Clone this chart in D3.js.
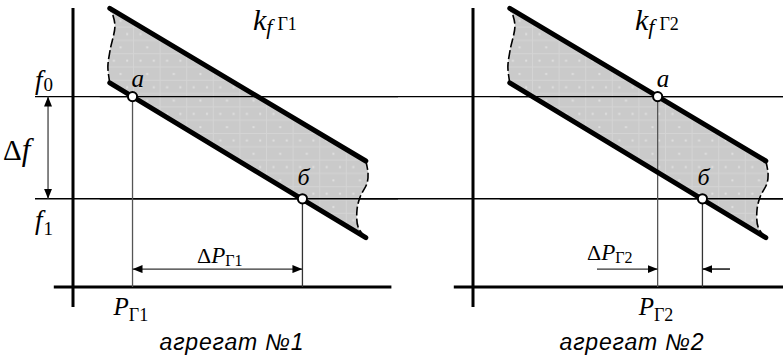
<!DOCTYPE html>
<html><head><meta charset="utf-8">
<script src="https://cdn.jsdelivr.net/npm/d3@7"></script>
<style>body{margin:0;background:#fff} svg{display:block}</style>
</head><body>
<script>
// ---- data (P in arbitrary units 0..100, f in arbitrary units 0..100) ----
const panelNames = ["агрегат №1", "агрегат №2"];
const panelSub = ["1", "2"];
const fLevels = [68, 31.5];              // f0, f1
const fLabels = ["0", "1"];
const bandTopP = [11.5, 91.5], bandTopF = [99.5, 45];
const bandBotP = [11.5, 91.5], bandBotF = [72.9, 17.6];
const leftEdgeP = [11.5, 12.5, 13.1, 11.6, 10.9, 11.5];
const leftEdgeF = [99.5, 97, 93, 84.6, 78.6, 72.9];
const rightEdgeP = [91.5, 92.2, 91.9, 89.7, 88.75, 89.1, 91.5];
const rightEdgeF = [45, 40.7, 37.1, 32.1, 27.5, 21.4, 17.6];
const pointAP = [18.6, 57.7];            // point "a" at f0
const pointBP = [71.7, 71.7];            // point "б" at f1
const pointLabels = ["a", "б"];
const outerArrowP = [38.75, 80.3];       // panel 2 outer arrow starts
const dPArrowF = 6.4;

const W = 783, H = 358;
const svg = d3.select("body").append("svg").attr("width", W).attr("height", H);
const defs = svg.append("defs");
const pat = defs.append("pattern").attr("id", "hatch").attr("patternUnits", "userSpaceOnUse")
  .attr("width", 26.6).attr("height", 26.6);
pat.append("rect").attr("width", 26.6).attr("height", 26.6).attr("fill", "#cacaca");
pat.append("path").attr("d", "M0.5,0V26.6M0,0.5H26.6M0,13.8H26.6").attr("stroke", "#d4d4d4").attr("stroke-width", 1);
[[6.5, 6.5], [19.8, 6.5], [13.2, 19.8]].forEach(d =>
  pat.append("rect").attr("x", d[0]).attr("y", d[1]).attr("width", 2).attr("height", 2).attr("fill", "#e0e0e0"));

function arrowMarker(id) {
  defs.append("marker").attr("id", id).attr("viewBox", "0 0 10 8").attr("refX", 10).attr("refY", 4)
    .attr("markerWidth", 10).attr("markerHeight", 8).attr("markerUnits", "userSpaceOnUse")
    .attr("orient", "auto-start-reverse")
    .append("path").attr("d", "M0,0L10,4L0,8Z").attr("fill", "#000");
}
arrowMarker("arr");

const y = d3.scaleLinear().domain([0, 100]).range([287, 7]);
const origins = [73, 473];
const serif = "Liberation Serif, DejaVu Serif, serif";
const sans = "Liberation Sans, Arial, sans-serif";

// horizontal f lines across whole figure
fLevels.forEach(f => {
  svg.append("line").attr("x1", 35).attr("x2", W).attr("y1", y(f)).attr("y2", y(f))
    .attr("stroke", "#000").attr("stroke-width", 1.4);
});

panelNames.forEach((name, i) => {
  const x = d3.scaleLinear().domain([0, 100]).range([origins[i], origins[i] + 320]);
  const g = svg.append("g");

  const lineC = d3.line().x(d => x(d[0])).y(d => y(d[1])).curve(d3.curveCatmullRom);
  const rightPts = rightEdgeP.map((p, k) => [p, rightEdgeF[k]]);
  const leftPts = leftEdgeP.map((p, k) => [p, leftEdgeF[k]]).reverse();
  const pathStr = "M" + x(bandTopP[0]) + "," + y(bandTopF[0]) +
    "L" + x(bandTopP[1]) + "," + y(bandTopF[1]) +
    lineC(rightPts).replace(/^M/, "L") +
    "L" + x(bandBotP[0]) + "," + y(bandBotF[0]) +
    lineC(leftPts).replace(/^M/, "L") + "Z";
  g.append("path").attr("d", pathStr).attr("fill", "url(#hatch)");

  // redraw f lines over fill
  fLevels.forEach(f => {
    g.append("line").attr("x1", x(bandTopP[0]) - 10).attr("x2", x(100) + 5).attr("y1", y(f)).attr("y2", y(f))
      .attr("stroke", "#000").attr("stroke-width", 1.4);
  });

  // axes
  g.append("line").attr("x1", x(0)).attr("x2", x(0)).attr("y1", y(-7.1)).attr("y2", y(99.6))
    .attr("stroke", "#000").attr("stroke-width", 3);
  g.append("line").attr("x1", x(-6)).attr("x2", Math.min(W, x(99.5))).attr("y1", y(0)).attr("y2", y(0))
    .attr("stroke", "#000").attr("stroke-width", 3);

  // vertical projection lines
  g.append("line").attr("x1", x(pointAP[i])).attr("x2", x(pointAP[i])).attr("y1", y(fLevels[0])).attr("y2", y(0))
    .attr("stroke", "#555").attr("stroke-width", 1.3);
  g.append("line").attr("x1", x(pointBP[i])).attr("x2", x(pointBP[i])).attr("y1", y(fLevels[1])).attr("y2", y(0))
    .attr("stroke", "#333").attr("stroke-width", 1.3);

  // band edges
  g.append("line").attr("x1", x(bandTopP[0])).attr("y1", y(bandTopF[0])).attr("x2", x(bandTopP[1])).attr("y2", y(bandTopF[1]))
    .attr("stroke", "#000").attr("stroke-width", 5).attr("stroke-linecap", "round");
  g.append("line").attr("x1", x(bandBotP[0])).attr("y1", y(bandBotF[0])).attr("x2", x(bandBotP[1])).attr("y2", y(bandBotF[1]))
    .attr("stroke", "#000").attr("stroke-width", 5).attr("stroke-linecap", "round");
  g.append("path").attr("d", lineC(leftPts)).attr("fill", "none").attr("stroke", "#000")
    .attr("stroke-width", 1.6).attr("stroke-dasharray", "9,3");
  g.append("path").attr("d", lineC(rightPts)).attr("fill", "none").attr("stroke", "#000")
    .attr("stroke-width", 1.6).attr("stroke-dasharray", "9,3");

  // ΔP arrows
  if (i === 0) {
    g.append("line").attr("x1", x(pointAP[i])).attr("x2", x(pointBP[i])).attr("y1", y(dPArrowF)).attr("y2", y(dPArrowF))
      .attr("stroke", "#333").attr("stroke-width", 1.3)
      .attr("marker-start", "url(#arr)").attr("marker-end", "url(#arr)");
  } else {
    g.append("line").attr("x1", x(outerArrowP[0])).attr("x2", x(pointAP[i])).attr("y1", y(dPArrowF)).attr("y2", y(dPArrowF))
      .attr("stroke", "#333").attr("stroke-width", 1.3).attr("marker-end", "url(#arr)");
    g.append("line").attr("x1", x(pointBP[i])).attr("x2", x(outerArrowP[1])).attr("y1", y(dPArrowF)).attr("y2", y(dPArrowF))
      .attr("stroke", "#333").attr("stroke-width", 1.3);
    g.append("line").attr("x1", x(outerArrowP[1])).attr("x2", x(pointBP[i])).attr("y1", y(dPArrowF)).attr("y2", y(dPArrowF))
      .attr("stroke", "#333").attr("stroke-width", 1.3).attr("marker-end", "url(#arr)");
  }

  // points
  [[pointAP[i], fLevels[0]], [pointBP[i], fLevels[1]]].forEach(d => {
    g.append("circle").attr("cx", x(d[0])).attr("cy", y(d[1])).attr("r", 4.6)
      .attr("fill", "#fff").attr("stroke", "#000").attr("stroke-width", 2);
  });

  // point labels
  g.append("text").attr("x", x(pointAP[i]) - 1).attr("y", y(fLevels[0]) - 10)
    .style("font-family", serif).attr("font-style", "italic").attr("font-size", 25).text(pointLabels[0]);
  g.append("text").attr("x", x(pointBP[i]) - 5).attr("y", y(fLevels[1]) - 14)
    .style("font-family", serif).attr("font-style", "italic").attr("font-size", 24).text(pointLabels[1]);

  // k label
  const kx = i === 0 ? 253 : 635;
  const kt = g.append("text").attr("x", kx).attr("y", 30).style("font-family", serif);
  kt.append("tspan").attr("font-style", "italic").attr("font-size", 30).text("k");
  kt.append("tspan").attr("font-style", "italic").attr("font-size", 22).attr("dy", 4).text("f");
  kt.append("tspan").attr("font-size", 18).attr("dx", 5).attr("dy", -4).text("Г" + panelSub[i]);

  // P label
  const pt = g.append("text").attr("x", x(pointAP[i]) - 19).attr("y", 315).style("font-family", serif);
  pt.append("tspan").attr("font-style", "italic").attr("font-size", 25).text("P");
  pt.append("tspan").attr("font-size", 18).attr("dy", 6).text("Г" + panelSub[i]);

  // ΔP label
  const dx = i === 0 ? 197 : 587;
  const dy = i === 0 ? 263 : 260;
  const dt = g.append("text").attr("x", dx).attr("y", dy).style("font-family", serif);
  dt.append("tspan").attr("font-size", 22).text("Δ");
  dt.append("tspan").attr("font-style", "italic").attr("font-size", 23).text("P");
  dt.append("tspan").attr("font-size", 16).attr("dy", 3).text("Г" + panelSub[i]);

  // caption
  g.append("text").attr("x", i === 0 ? 232 : 632).attr("y", 350)
    .attr("text-anchor", "middle").style("font-family", sans)
    .attr("font-style", "italic").attr("font-size", 23).attr("letter-spacing", 0.8).text(name);
});

// f labels
fLevels.forEach((f, k) => {
  const t = svg.append("text").attr("x", 35).attr("y", k === 0 ? 89 : 229).style("font-family", serif);
  t.append("tspan").attr("font-style", "italic").attr("font-size", 27).text("f");
  t.append("tspan").attr("font-size", 19).attr("dx", 1).attr("dy", k === 0 ? 2 : 6).text(fLabels[k]);
});
// Δf
const xl = d3.scaleLinear().domain([0, 100]).range([origins[0], origins[0] + 320]);
svg.append("line").attr("x1", xl(-7.8)).attr("x2", xl(-7.8)).attr("y1", y(fLevels[0])).attr("y2", y(fLevels[1]))
  .attr("stroke", "#444").attr("stroke-width", 1.3)
  .attr("marker-start", "url(#arr)").attr("marker-end", "url(#arr)");
const dft = svg.append("text").attr("x", 3).attr("y", 160).style("font-family", serif);
dft.append("tspan").attr("font-size", 29).text("Δ");
dft.append("tspan").attr("font-style", "italic").attr("font-size", 31).text("f");
</script>
</body></html>
